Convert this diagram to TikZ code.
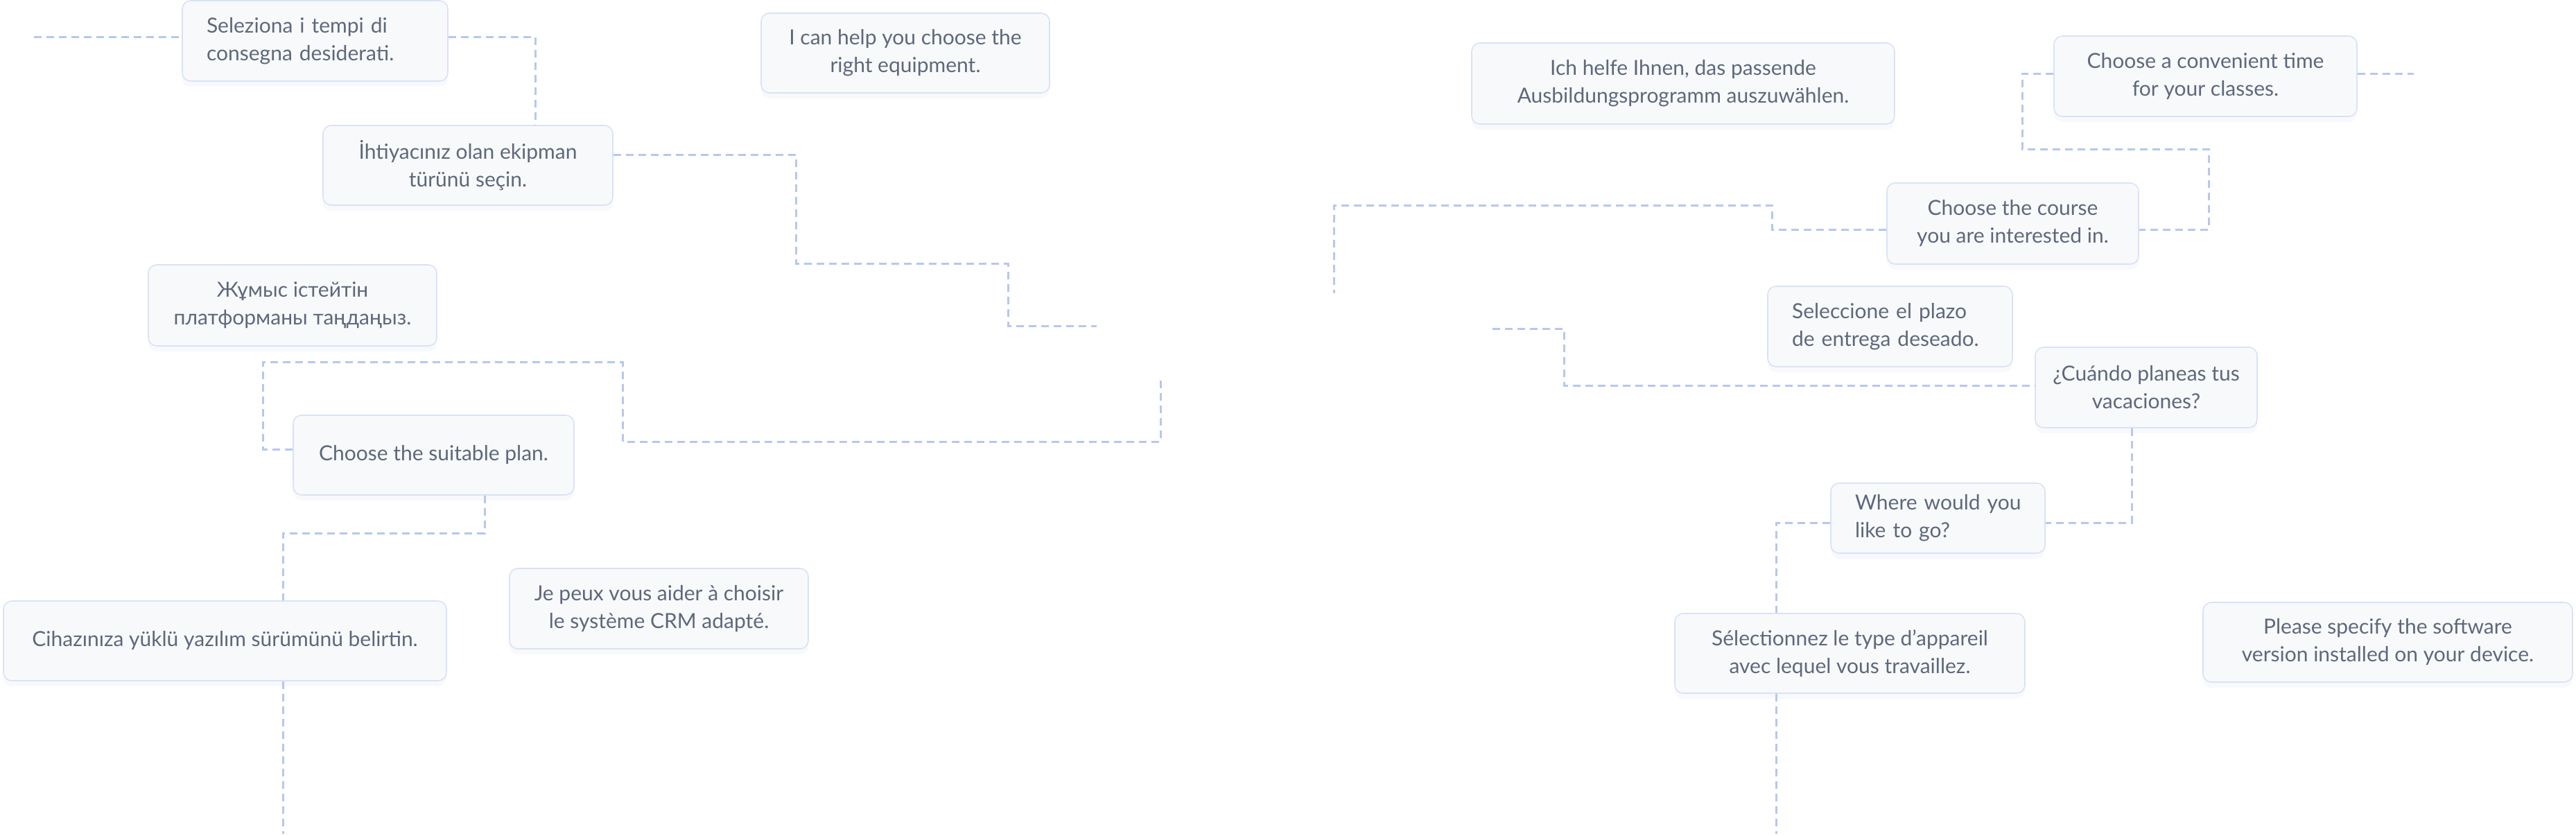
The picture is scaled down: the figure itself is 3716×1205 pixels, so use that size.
\documentclass[tikz,border=0pt]{standalone}
\usepackage{fontspec}
\setmainfont{Lato}
\usetikzlibrary{shadows}
\definecolor{txt}{HTML}{5E687C}
\definecolor{boxfill}{HTML}{F8F9FB}
\definecolor{boxline}{HTML}{D9E2F6}
\definecolor{conn}{HTML}{B7C7EE}
\definecolor{shade}{HTML}{9FB0DA}
\tikzset{
  card/.style={draw=boxline, line width=1.6pt, fill=boxfill, rounded corners=12pt,
    text=txt, font=\fontsize{30}{40}\selectfont, align=center, inner sep=0pt,
    drop shadow={shadow xshift=0pt, shadow yshift=-8pt, opacity=0.08, fill=shade}},
  leftcard/.style={card, align=left, inner xsep=35pt},
  link/.style={draw=conn, line width=3pt, dash pattern=on 11pt off 7pt},
}
\begin{document}
\begin{tikzpicture}[x=1pt,y=-1pt]
\useasboundingbox (0,0) rectangle (3716,1205);
% cards
\node[leftcard, minimum width=383pt, minimum height=116pt, text width=313pt] (sel) at (454.5,59) {\mbox{Seleziona i tempi di}\\\mbox{consegna desiderati.}};
\node[card, minimum width=418pt, minimum height=115pt] (iht) at (675,238.5) {İhtiyacınız olan ekipman\\türünü seçin.};
\node[card, minimum width=416pt, minimum height=115pt] (ican) at (1306,76.5) {I can help you choose the\\right equipment.};
\node[card, minimum width=416pt, minimum height=117pt] (zhu) at (422,440.5) {Жұмыс істейтін\\платформаны таңдаңыз.};
\node[card, minimum width=405pt, minimum height=115pt] (plan) at (625.5,656.5) {Choose the suitable plan.};
\node[card, minimum width=639pt, minimum height=115pt] (cih) at (324.5,924.5) {Cihazınıza yüklü yazılım sürümünü belirtin.};
\node[card, minimum width=431pt, minimum height=116pt] (jep) at (950.5,878) {Je peux vous aider à choisir\\le système CRM adapté.};
\node[card, minimum width=610pt, minimum height=117pt] (ich) at (2428,120.5) {Ich helfe Ihnen, das passende\\Ausbildungsprogramm auszuwählen.};
\node[card, minimum width=437pt, minimum height=116pt] (conv) at (3181.5,110) {Choose a convenient time\\for your classes.};
\node[card, minimum width=363pt, minimum height=117pt] (course) at (2903.5,322.5) {Choose the course\\you are interested in.};
\node[leftcard, minimum width=353pt, minimum height=116pt, text width=283pt] (selc) at (2726.5,471) {\mbox{Seleccione el plazo}\\\mbox{de entrega deseado.}};
\node[card, minimum width=320pt, minimum height=116pt] (cuan) at (3096,559) {¿Cuándo planeas tus\\vacaciones?};
\node[leftcard, minimum width=309pt, minimum height=101pt, text width=239pt] (where) at (2795.5,747.5) {\mbox{Where would you}\\\mbox{like to go?}};
\node[card, minimum width=505pt, minimum height=115pt] (selt) at (2668.5,942.5) {Sélectionnez le type d’appareil\\avec lequel vous travaillez.};
\node[card, minimum width=533pt, minimum height=115pt] (pls) at (3444.5,926.5) {Please specify the software\\version installed on your device.};
% free ends and bend points
\coordinate (a0) at (49,53);
\coordinate (a1) at (772,53);
\coordinate (c1) at (1148,223);
\coordinate (c2) at (1454,380);
\coordinate (c3) at (1582,470);
\coordinate (d1) at (379,648);
\coordinate (d2) at (898,522);
\coordinate (d3) at (1674,637);
\coordinate (d4) at (1674,545);
\coordinate (e1) at (699,769);
\coordinate (e2) at (408,769);
\coordinate (f1) at (408,1203);
\coordinate (g1) at (2556,331);
\coordinate (g2) at (1924,296);
\coordinate (g3) at (1924,423);
\coordinate (h1) at (2917,106);
\coordinate (h2) at (3186,215);
\coordinate (h3) at (3186,331);
\coordinate (i1) at (3482,106);
\coordinate (j0) at (2153,474);
\coordinate (j1) at (2256,474);
\coordinate (j2) at (2256,556);
\coordinate (k1) at (3075,754);
\coordinate (l1) at (2562,754);
\coordinate (m1) at (2562,1203);
% connectors
\draw[link] (a0) -- (a0 -| sel.west);
\draw[link] (sel.east |- a1) -- (a1) -- (a1 |- iht.north);
\draw[link] (iht.east |- c1) -- (c1) -- (c1 |- c2) -- (c2) -- (c2 |- c3) -- (c3);
\draw[link] (plan.west |- d1) -- (d1) -- (d1 |- d2) -- (d2) -- (d2 |- d3) -- (d3) -- (d4);
\draw[link] (plan.south -| e1) -- (e1) -- (e2) -- (e2 |- cih.north);
\draw[link] (cih.south -| f1) -- (f1);
\draw[link] (course.west |- g1) -- (g1) -- (g1 |- g2) -- (g2) -- (g3);
\draw[link] (conv.west |- h1) -- (h1) -- (h1 |- h2) -- (h2) -- (h3) -- (course.east |- h3);
\draw[link] (conv.east |- i1) -- (i1);
\draw[link] (j0) -- (j1) -- (j2) -- (cuan.west |- j2);
\draw[link] (cuan.south -| k1) -- (k1) -- (where.east |- k1);
\draw[link] (where.west |- l1) -- (l1) -- (l1 |- selt.north);
\draw[link] (selt.south -| m1) -- (m1);
\end{tikzpicture}
\end{document}
